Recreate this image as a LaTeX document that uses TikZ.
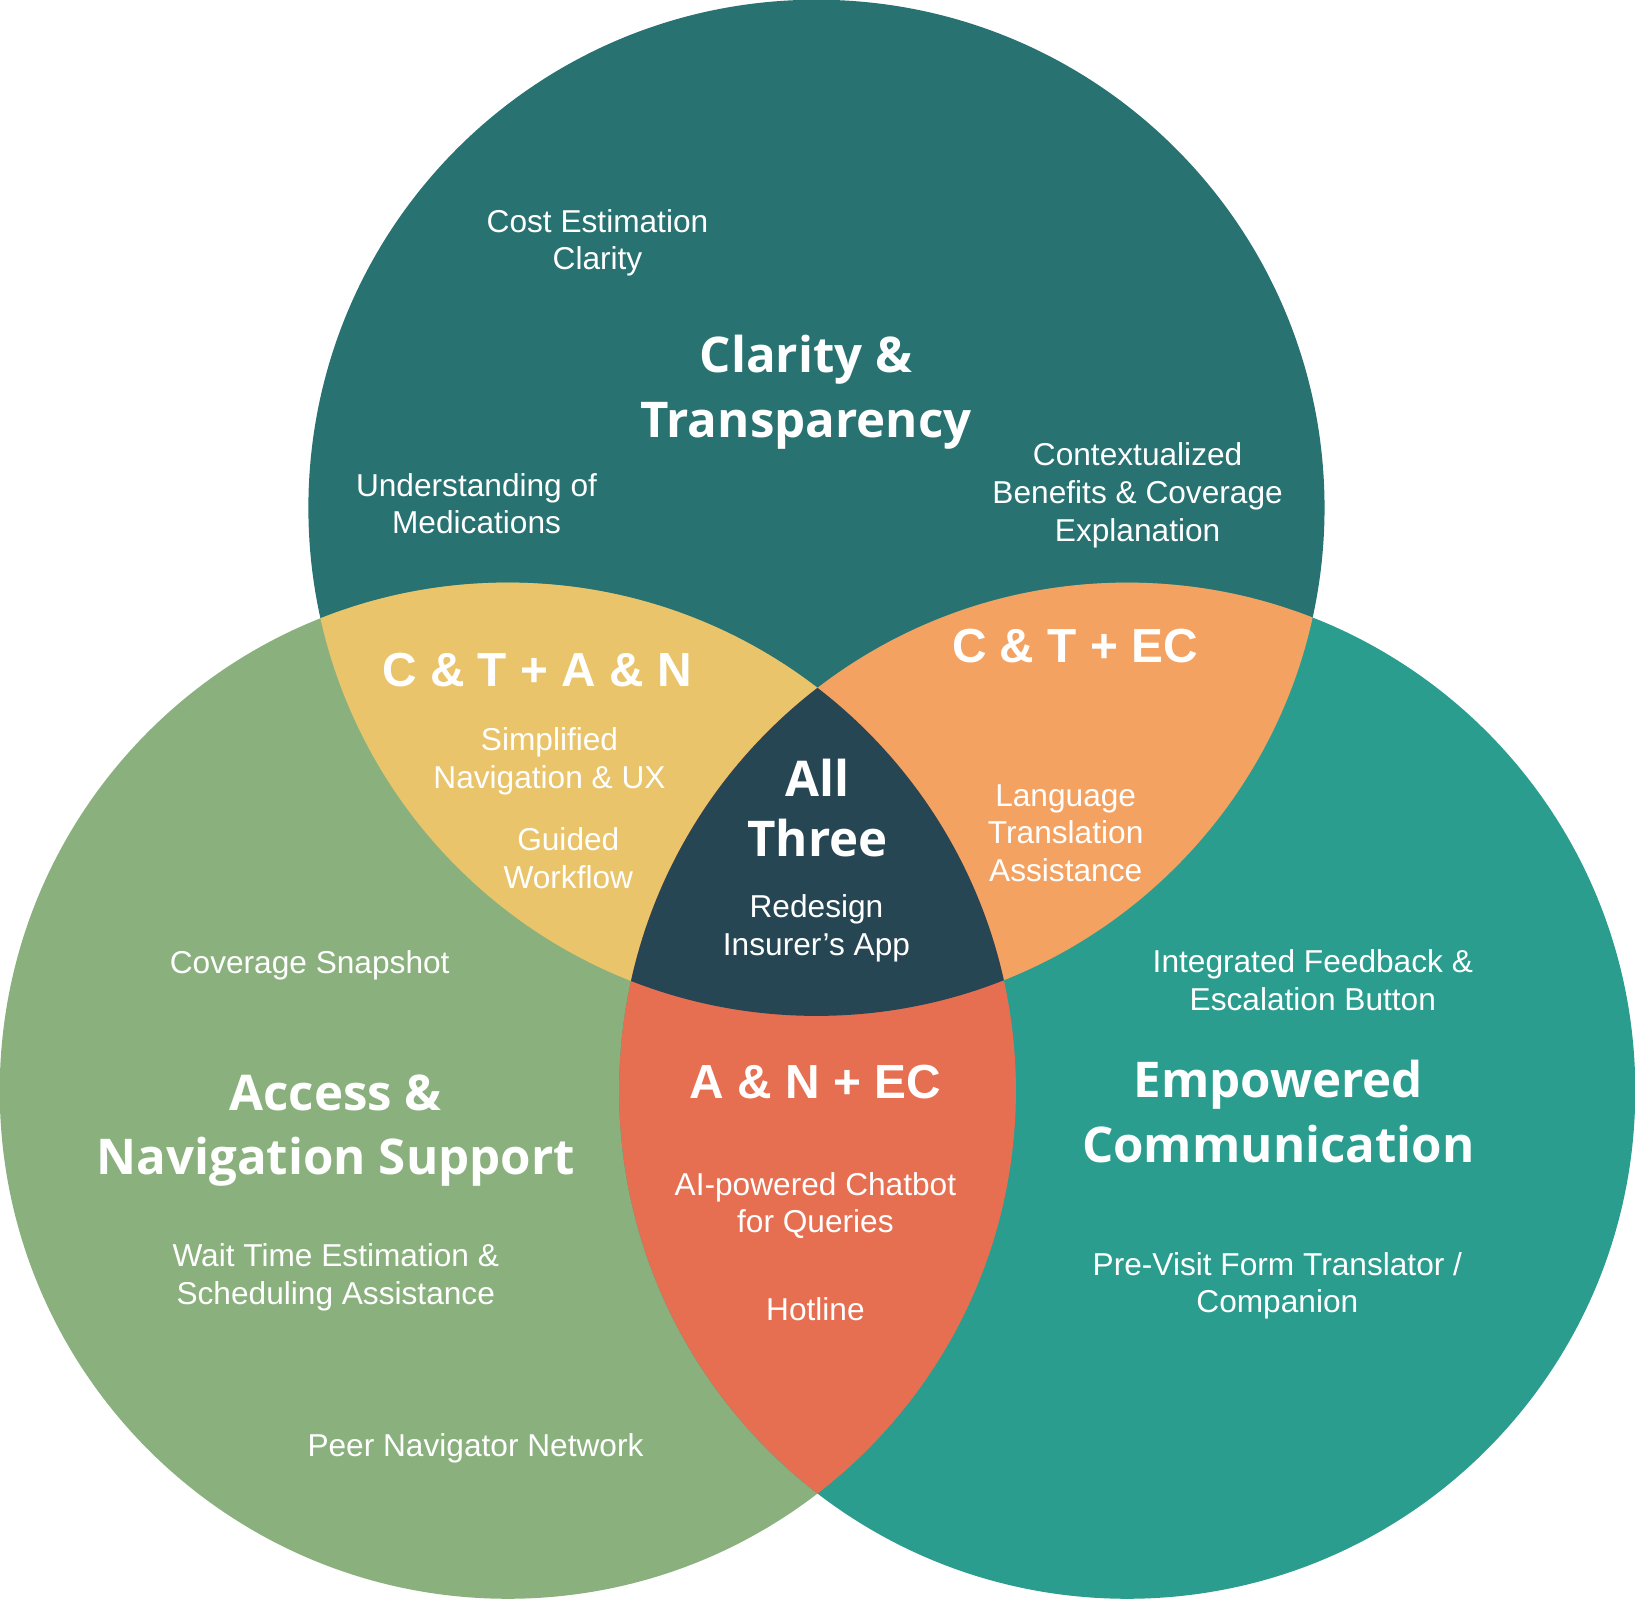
\documentclass[tikz,border=0pt]{standalone}
\usepackage{fontspec}
\setmainfont{Liberation Sans}
\newfontfamily\headfont{Open Sans}
\usepackage{tikz}
\usetikzlibrary{positioning}
\usepackage{xcolor}

\definecolor{ctcol}{HTML}{287271}
\definecolor{ancol}{HTML}{8AB17D}
\definecolor{eccol}{HTML}{2A9D8F}
\definecolor{ctancol}{HTML}{E9C46A}
\definecolor{ctecol}{HTML}{F4A261}
\definecolor{anecol}{HTML}{E76F51}
\definecolor{allcol}{HTML}{264653}

\def\rad{5.078cm}

\tikzset{
    item/.style={align=center, text=white, inner sep=0pt, font=\fontsize{9}{10.7}\selectfont},
    title/.style={align=center, text=white, inner sep=0pt, font=\headfont\bfseries\fontsize{14}{18.3}\selectfont},
    pair/.style={align=center, text=white, inner sep=0pt, font=\bfseries\fontsize{13.6}{16}\selectfont}
}

\begin{document}
\begin{tikzpicture}[x=0.010427cm, y=-0.010427cm]
    \useasboundingbox (0,0) rectangle (1568,1533);
    \coordinate (ct) at (783,487);
    \coordinate (an) at (487,1046);
    \coordinate (ec) at (1081,1046);

    % the three circles
    \fill[ctcol] (ct) circle[radius=\rad];
    \fill[ancol] (an) circle[radius=\rad];
    \fill[eccol] (ec) circle[radius=\rad];

    % pairwise overlaps
    \begin{scope}
        \clip (ct) circle[radius=\rad];
        \fill[ctancol] (an) circle[radius=\rad];
        \fill[ctecol] (ec) circle[radius=\rad];
    \end{scope}
    \begin{scope}
        \clip (an) circle[radius=\rad];
        \fill[anecol] (ec) circle[radius=\rad];
    \end{scope}

    % centre
    \begin{scope}
        \clip (ct) circle[radius=\rad];
        \clip (an) circle[radius=\rad];
        \fill[allcol] (ec) circle[radius=\rad];
    \end{scope}

    % Clarity & Transparency
    \node[item] (cost) at (573,233) {Cost Estimation\\Clarity};
    \node[title] (cttitle) at (773,376) {Clarity \&\\Transparency};
    \node[item] (meds) at (457,483) {Understanding of\\Medications};
    \node[item] (context) at (1091,475) {Contextualized\\Benefits \& Coverage\\Explanation};

    % C & T + A & N
    \node[pair] (ctan) at (515,643) {C \& T + A \& N};
    \node[item] (simple) at (527,730) {Simplified\\Navigation \& UX};
    \node[item] (guided) at (545,823) {Guided\\Workflow};

    % C & T + EC
    \node[pair] (ctec) at (1031,620) {C \& T + EC};
    \node[item] (lang) at (1022,799) {Language\\Translation\\Assistance};

    % all three
    \node[title, font=\headfont\bfseries\fontsize{14}{16.9}\selectfont] (all) at (784,775) {All\\Three};
    \node[item] (redesign) at (783,890) {Redesign\\Insurer’s App};

    % Access & Navigation Support
    \node[item] (snapshot) at (297,926) {Coverage Snapshot};
    \node[title] (antitle) at (322,1084) {Access \&\\Navigation Support};
    \node[item] (wait) at (322,1225) {Wait Time Estimation \&\\Scheduling Assistance};
    \node[item] (peer) at (456,1389) {Peer Navigator Network};

    % A & N + EC
    \node[pair] (anec) at (782,1038) {A \& N + EC};
    \node[item] (chatbot) at (782,1156) {AI-powered Chatbot\\for Queries};
    \node[item] (hotline) at (782,1256) {Hotline};

    % Empowered Communication
    \node[item] (feedback) at (1259,940) {Integrated Feedback \&\\Escalation Button};
    \node[title] (ectitle) at (1226,1066) {Empowered\\Communication};
    \node[item] (previsit) at (1225,1233) {Pre-Visit Form Translator /\\Companion};
\end{tikzpicture}
\end{document}
